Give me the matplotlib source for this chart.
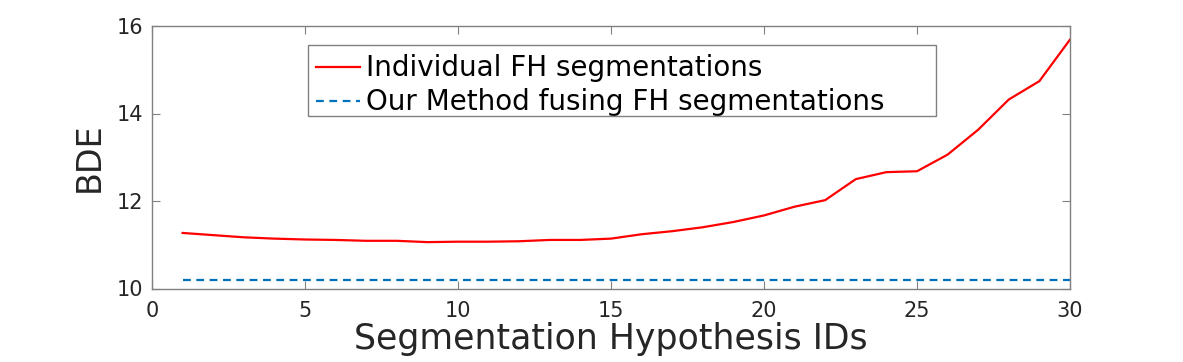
import matplotlib.pyplot as plt
from matplotlib.patches import Rectangle

# segmentation hypothesis ids and BDE values
ids = list(range(1, 31))
bdeIndividual = [11.27, 11.22, 11.17, 11.14, 11.12, 11.11, 11.09, 11.09, 11.06, 11.07,
                 11.07, 11.08, 11.11, 11.11, 11.14, 11.24, 11.31, 11.40, 11.52, 11.67,
                 11.87, 12.02, 12.50, 12.66, 12.68, 13.06, 13.63, 14.32, 14.74, 15.69]
bdeFused = [10.19] * 30
labels = ['Individual FH segmentations', 'Our Method fusing FH segmentations']

plt.rcParams['font.family'] = ['DejaVu Sans']
W, H = 1183, 362

fig = plt.figure(figsize=(W/100, H/100), dpi=100)
ax = fig.add_axes([152/W, 1-288.5/H, 918/W, 262.5/H])
ax.plot(ids, bdeIndividual, color='#FF0000', lw=1.6, label=labels[0])
ax.plot(ids, bdeFused, color='#0072BD', lw=1.6, ls=(0, (3.5, 2.5)), label=labels[1])

ax.set(xlim=(0, 30), ylim=(10, 16))
ax.set_xticks([0, 5, 10, 15, 20, 25, 30])
ax.set_yticks([10, 12, 14, 16])
ax.tick_params(direction='in', length=6, width=0.8, color='#808080', labelsize=15,
               labelcolor='#262626', top=True, right=True)
ax.tick_params(axis='x', pad=9)
ax.tick_params(axis='y', pad=6)
for sp in ax.spines.values():
    sp.set_color('#808080')
    sp.set_linewidth(1.0)
ax.set_xlabel('Segmentation Hypothesis IDs', fontsize=25, color='#262626', labelpad=1)
ax.set_ylabel('BDE', fontsize=24, color='#262626', labelpad=8)

# legend with a wider frame drawn separately
leg = ax.legend(loc='upper left', bbox_to_anchor=(308/W, 1-46/H), bbox_transform=fig.transFigure,
                fontsize=20, frameon=False, handlelength=1.58, borderpad=0.3, borderaxespad=0,
                labelspacing=0.22, handletextpad=0.2)
fig.patches.append(Rectangle((308/W, 1-116/H), 628/W, 71/H, transform=fig.transFigure,
                             fill=False, edgecolor='#808080', lw=1.0, zorder=5))

fig.savefig('out.png', dpi=100)
